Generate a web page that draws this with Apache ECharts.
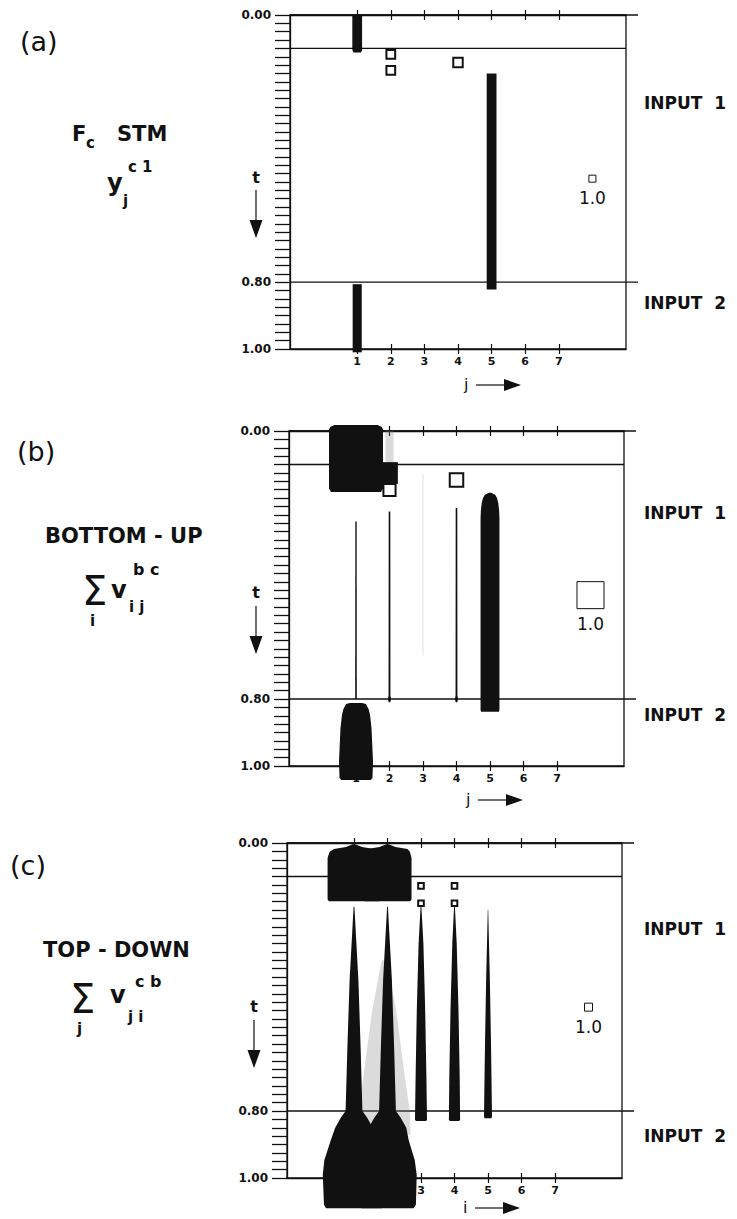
<!DOCTYPE html>
<html>
<head>
<meta charset="utf-8">
<script src="https://cdn.jsdelivr.net/npm/echarts@6/dist/echarts.min.js"></script>
<style>
  html, body { margin: 0; padding: 0; background: #fff; }
  #chart { width: 737px; height: 1219px; }
</style>
</head>
<body>
<div id="chart"></div>
<script>
const INK = '#111';
const FONT = 'DejaVu Sans';

// axes
const T_LABELS = [0, 0.8, 1];
const J_TICKS = [1, 2, 3, 4, 5, 6, 7];
const GUIDES = [0, 0.1, 0.8];          // input 1 on at 0.1, input 2 on at 0.8
const LEGEND = [[8, 0.49, 1.0]];        // reference square, size 1.0

// shapes: [j, [[t, size], ...]]  size 1.0 = legend square
// (a) F_c STM  y_j^{c1}
const stmShapes = [
  [1, [[0, 1.4], [0.104, 1.4], [0.112, 1.1]]],
  [1, [[0.806, 1.3], [1.01, 1.3]]],
  [5, [[0.175, 1.4], [0.822, 1.4]]],
];
const stmBoxes = [[2, 0.118, 1.25], [2, 0.166, 1.25], [4, 0.142, 1.35]];

// (b) bottom-up  sum_i v_ij^{bc}
const buShapes = [
  [1, [[-0.018, 1.6], [-0.012, 1.92], [-0.004, 2.0], [0.172, 2.0], [0.182, 1.85]]],
  [2, [[0.093, 0.62], [0.158, 0.62]]],
  [1, [[0.27, 0.05], [0.8, 0.06]]],
  [2, [[0.24, 0.06], [0.79, 0.07], [0.8, 0.12], [0.81, 0.06]]],
  [4, [[0.23, 0.06], [0.79, 0.07], [0.8, 0.12], [0.81, 0.06]]],
  [5, [[0.184, 0.08], [0.19, 0.38], [0.2, 0.52], [0.215, 0.61], [0.235, 0.67], [0.26, 0.7], [0.832, 0.7], [0.838, 0.66]]],
  [1, [[0.812, 0.45], [0.815, 0.74], [0.83, 0.93], [0.848, 1.04], [0.888, 1.15], [0.987, 1.26], [1.035, 1.22], [1.042, 1.1]]],
];
const buBoxes = [[2, 0.176, 0.45], [4, 0.146, 0.5]];
const buHaze = [
  [2, [[0, 0.3], [0.095, 0.3]]],
  [3, [[0.13, 0.03], [0.67, 0.03]]],
];

// (c) top-down  sum_j v_ji^{cb}
const tdShapes = [
  [1, [[0.004, 0.3], [0.012, 2.0], [0.018, 5.0], [0.026, 6.1], [0.045, 6.6], [0.168, 6.6], [0.174, 6.3]]],
  [2, [[0.004, 0.3], [0.012, 2.0], [0.018, 5.0], [0.026, 5.6], [0.045, 6.0], [0.168, 6.0], [0.174, 5.7]]],
  [1, [[0.19, 0.1], [0.3, 0.6], [0.41, 1.1], [0.61, 1.65], [0.8, 2.1], [0.82, 3.3], [0.85, 4.7], [0.887, 5.8], [0.946, 7.4], [0.99, 7.8], [1.08, 7.5], [1.09, 7.0]]],
  [2, [[0.19, 0.1], [0.3, 0.6], [0.41, 1.1], [0.61, 1.65], [0.8, 2.1], [0.82, 3.3], [0.85, 4.7], [0.887, 5.3], [0.946, 6.8], [0.99, 7.3], [1.08, 7.1], [1.09, 6.5]]],
  [3, [[0.19, 0.1], [0.3, 0.6], [0.5, 1.05], [0.7, 1.35], [0.825, 1.5], [0.83, 1.3]]],
  [4, [[0.19, 0.1], [0.3, 0.55], [0.5, 1.0], [0.7, 1.3], [0.825, 1.4], [0.83, 1.2]]],
  [5, [[0.2, 0.05], [0.4, 0.45], [0.6, 0.75], [0.815, 1.0], [0.822, 0.9]]],
];
const tdBoxes = [[3, 0.128, 0.7], [3, 0.18, 0.7], [4, 0.128, 0.7], [4, 0.18, 0.7]];
const tdHaze = [
  [1.9, [[0.35, 0.6], [0.5, 3.0], [0.7, 5.2], [0.8, 6.4], [0.87, 6.6]]],
];

const panels = [
  { grid: { left: 290, top: 15, width: 336, height: 334 }, unit: 0.208, shapes: stmShapes, boxes: stmBoxes, haze: [], boxLine: 2 },
  { grid: { left: 289, top: 431, width: 335, height: 335 }, unit: 0.806, shapes: buShapes, boxes: buBoxes, haze: buHaze, boxLine: 2 },
  { grid: { left: 287, top: 843, width: 335, height: 335 }, unit: 0.239, shapes: tdShapes, boxes: tdBoxes, haze: tdHaze, boxLine: 2 },
];

function xAxesFor(i) {
  const base = { type: 'value', gridIndex: i, min: -1, max: 9, interval: 1, splitLine: { show: false } };
  const tick = (inside) => ({ show: true, customValues: J_TICKS, inside, length: 5, lineStyle: { color: INK, width: 1.2 } });
  const line = (show) => ({ show, onZero: false, lineStyle: { color: INK, width: 1.3 } });
  return [
    { ...base, position: 'bottom', axisLine: line(true), axisTick: tick(false),
      axisLabel: { customValues: J_TICKS, color: INK, fontFamily: FONT, fontWeight: 'bold', fontSize: 11, margin: 7 } },
    { ...base, position: 'bottom', axisLine: line(false), axisTick: tick(true), axisLabel: { show: false } },
    { ...base, position: 'top', axisLine: line(true), axisTick: tick(false), axisLabel: { show: false } },
    { ...base, position: 'top', axisLine: line(false), axisTick: tick(true), axisLabel: { show: false } },
  ];
}

function yAxisFor(i) {
  return {
    type: 'value', gridIndex: i, position: 'left', inverse: true, min: 0, max: 1, interval: 0.025,
    axisLine: { show: true, onZero: false, lineStyle: { color: INK, width: 1.3 } },
    axisTick: { show: true, length: 15, lineStyle: { color: INK, width: 1.3 } },
    axisLabel: { customValues: T_LABELS, formatter: (v) => v.toFixed(2), margin: 19, color: INK,
      fontFamily: FONT, fontWeight: 'bold', fontSize: 12 },
    splitLine: { show: false },
  };
}

function profileSeries(i, shapes, unit, fill, opacity, z) {
  return {
    type: 'custom', xAxisIndex: 4 * i, yAxisIndex: i, z, silent: true,
    data: shapes.map((s, k) => [s[0], s[1][0][0], k]),
    renderItem(params, api) {
      const s = shapes[api.value(2)];
      const j = s[0];
      const pts = s[1];
      const left = pts.map((p) => api.coord([j - p[1] * unit / 2, p[0]]));
      const right = pts.slice().reverse().map((p) => api.coord([j + p[1] * unit / 2, p[0]]));
      return { type: 'polygon', shape: { points: left.concat(right) }, style: { fill, opacity } };
    },
  };
}

function boxSeries(i, boxes, unit, lineWidth) {
  return {
    type: 'custom', xAxisIndex: 4 * i, yAxisIndex: i, z: 5, silent: true,
    data: boxes,
    renderItem(params, api) {
      const c = api.coord([api.value(0), api.value(1)]);
      const side = api.size([api.value(2) * unit, 0])[0];
      return { type: 'rect', shape: { x: c[0] - side / 2, y: c[1] - side / 2, width: side, height: side },
        style: { fill: '#fff', stroke: INK, lineWidth } };
    },
  };
}

function legendSeries(i, unit) {
  return {
    type: 'custom', xAxisIndex: 4 * i, yAxisIndex: i, z: 5, silent: true,
    data: LEGEND,
    renderItem(params, api) {
      const c = api.coord([api.value(0), api.value(1)]);
      const side = api.size([api.value(2) * unit, 0])[0];
      return {
        type: 'group',
        children: [
          { type: 'rect', shape: { x: c[0] - side / 2, y: c[1] - side / 2, width: side, height: side },
            style: { fill: '#fff', stroke: INK, lineWidth: 1 } },
          { type: 'text', style: { text: api.value(2).toFixed(1), x: c[0], y: c[1] + side / 2 + 7,
            fill: INK, fontFamily: FONT, fontSize: 17, align: 'center', verticalAlign: 'top' } },
        ],
      };
    },
  };
}

function guideSeries(i) {
  return {
    type: 'custom', xAxisIndex: 4 * i, yAxisIndex: i, z: 1, silent: true,
    data: GUIDES.map((t) => [9, t]),
    renderItem(params, api) {
      const t = api.value(1);
      const a = api.coord([-1, t]);
      const b = api.coord([9, t]);
      const over = t === 0.1 ? 0 : 12;
      return { type: 'line', shape: { x1: a[0], y1: a[1], x2: b[0] + over, y2: b[1] },
        style: { stroke: INK, lineWidth: 1.3 } };
    },
  };
}

function seriesFor(p, i) {
  return [
    guideSeries(i),
    profileSeries(i, p.haze, p.unit, '#888', 0.3, 2),
    profileSeries(i, p.shapes, p.unit, INK, 1, 3),
    boxSeries(i, p.boxes, p.unit, p.boxLine),
    legendSeries(i, p.unit),
  ];
}

// text and arrows around the panels
function txt(text, x, y, size, bold, align) {
  return { type: 'text', silent: true, z: 10,
    style: { text, x, y, fill: INK, fontFamily: FONT, fontSize: size, fontWeight: bold ? 'bold' : 'normal',
      align: align || 'left', verticalAlign: 'middle' } };
}
function downArrow(x, yt, y0, y1) {
  return [
    txt('t', x, yt, 16, true, 'center'),
    { type: 'line', silent: true, shape: { x1: x, y1: y0, x2: x, y2: y1 - 14 }, style: { stroke: INK, lineWidth: 1.2 } },
    { type: 'polygon', silent: true, shape: { points: [[x - 6.5, y1 - 18], [x + 6.5, y1 - 18], [x, y1]] }, style: { fill: INK } },
  ];
}
function rightArrow(label, x, y) {
  return [
    txt(label, x, y - 1, 16, false, 'left'),
    { type: 'line', silent: true, shape: { x1: x + 12, y1: y, x2: x + 44, y2: y }, style: { stroke: INK, lineWidth: 1.2 } },
    { type: 'polygon', silent: true, shape: { points: [[x + 40, y - 6], [x + 40, y + 6], [x + 57, y]] }, style: { fill: INK } },
  ];
}

const graphics = [
  // (a)
  txt('(a)', 20, 41, 27, false),
  txt('F', 72, 134, 21, true),
  txt('c', 86, 143, 15, true),
  txt('STM', 117, 134, 21, true),
  txt('y', 107, 183, 24, true),
  txt('c 1', 128, 167, 15, true),
  txt('j', 123, 201, 15, true),
  txt('INPUT\u00a0\u00a01', 644, 103, 17, true),
  txt('INPUT\u00a0\u00a02', 644, 303, 17, true),
  ...downArrow(256, 177, 190, 238),
  ...rightArrow('j', 464, 385),
  // (b)
  txt('(b)', 17, 451, 27, false),
  txt('BOTTOM - UP', 45, 536, 21, true),
  txt('\u03a3', 82, 591, 40, false),
  txt('i', 90, 621, 15, true),
  txt('v', 111, 590, 24, true),
  txt('b c', 133, 569, 16, true),
  txt('i j', 129, 607, 15, true),
  txt('INPUT\u00a0\u00a01', 644, 513, 17, true),
  txt('INPUT\u00a0\u00a02', 644, 715, 17, true),
  ...downArrow(256, 592, 606, 654),
  ...rightArrow('j', 466, 800),
  // (c)
  txt('(c)', 10, 865, 27, false),
  txt('TOP - DOWN', 43, 950, 21, true),
  txt('\u03a3', 70, 999, 40, false),
  txt('j', 77, 1029, 15, true),
  txt('v', 110, 995, 24, true),
  txt('c b', 135, 981, 16, true),
  txt('j i', 128, 1017, 15, true),
  txt('INPUT\u00a0\u00a01', 644, 929, 17, true),
  txt('INPUT\u00a0\u00a02', 644, 1136, 17, true),
  ...downArrow(254, 1006, 1020, 1068),
  ...rightArrow('i', 463, 1208),
];

const chart = echarts.init(document.getElementById('chart'), null, { renderer: 'svg' });
chart.setOption({
  animation: false,
  backgroundColor: '#fff',
  grid: panels.map((p) => ({ ...p.grid, show: true, borderColor: INK, borderWidth: 1.3, backgroundColor: '#fff',
    containLabel: false, outerBoundsMode: 'none' })),
  xAxis: panels.flatMap((p, i) => xAxesFor(i)),
  yAxis: panels.map((p, i) => yAxisFor(i)),
  series: panels.flatMap((p, i) => seriesFor(p, i)),
  graphic: { elements: graphics },
});
</script>
</body>
</html>
